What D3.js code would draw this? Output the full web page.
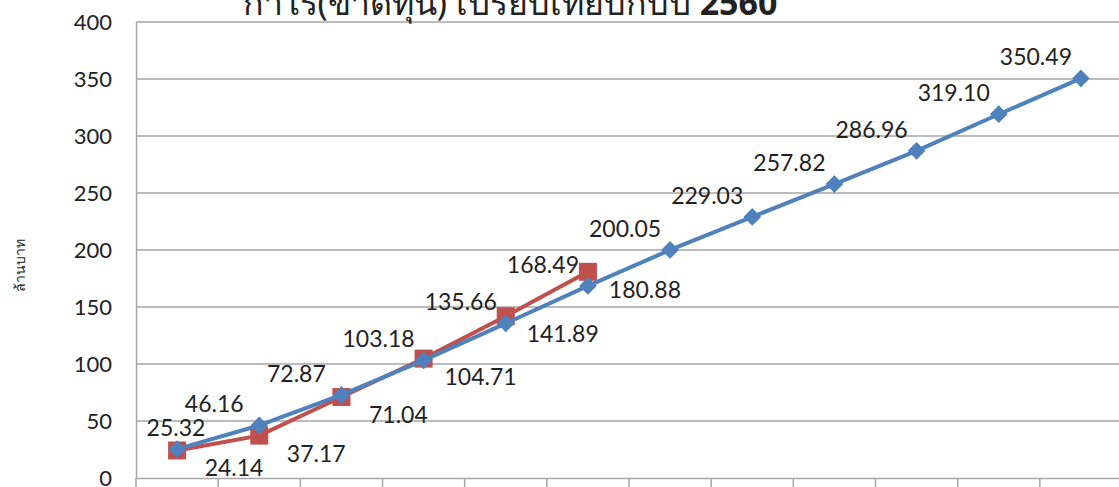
<!DOCTYPE html>
<html>
<head>
<meta charset="utf-8">
<script src="https://cdn.jsdelivr.net/npm/d3@7"></script>
<style>
  body { margin: 0; background: #fff; }
  svg text { font-family: Lato, "Open Sans", sans-serif; fill: #222; }
</style>
</head>
<body>
<div id="chart"></div>
<script>
// months (axis labels fall below the visible frame)
var months = ["ม.ค.", "ก.พ.", "มี.ค.", "เม.ย.", "พ.ค.", "มิ.ย.", "ก.ค.", "ส.ค.", "ก.ย.", "ต.ค.", "พ.ย.", "ธ.ค."];
var yTicks = [0, 50, 100, 150, 200, 250, 300, 350, 400];

// blue series, diamond markers
var seriesBlue = [25.32, 46.16, 72.87, 103.18, 135.66, 168.49, 200.05, 229.03, 257.82, 286.96, 319.10, 350.49];
// red series, square markers (first six months only)
var seriesRed = [24.14, 37.17, 71.04, 104.71, 141.89, 180.88];

var W = 1119, H = 487;
var plotL = 136, plotR = 1122, plotT = 22, plotB = 478;

var svg = d3.select("#chart").append("svg")
  .attr("width", W).attr("height", H);

var x = d3.scaleBand().domain(months).range([plotL, plotR]);
var y = d3.scaleLinear().domain([0, 400]).range([plotB, plotT]);

// horizontal gridlines
svg.append("g")
  .selectAll("line").data(yTicks.slice(1)).enter().append("line")
  .attr("x1", plotL).attr("x2", plotR)
  .attr("y1", function (d) { return y(d); })
  .attr("y2", function (d) { return y(d); })
  .attr("stroke", "#a6a6a6").attr("stroke-width", 1.5);

// y axis
var yAxis = svg.append("g")
  .attr("transform", "translate(" + plotL + ",0)")
  .call(d3.axisLeft(y).tickValues(yTicks).tickSize(0).tickPadding(24));
yAxis.select(".domain").attr("stroke", "#a6a6a6").attr("stroke-width", 1.5);
yAxis.selectAll("text").style("font-size", "22px").attr("fill", "#222")
  .style("font-family", "Lato, 'Open Sans', sans-serif");

// x axis (ticks between categories)
var xAxis = svg.append("g")
  .attr("transform", "translate(0," + plotB + ")")
  .call(d3.axisBottom(x).tickSize(0).tickFormat(""));
xAxis.select(".domain").attr("stroke", "#a6a6a6").attr("stroke-width", 1.5);
xAxis.selectAll(".bound").data(months).enter().append("line")
  .attr("class", "bound")
  .attr("x1", function (d) { return x(d); })
  .attr("x2", function (d) { return x(d); })
  .attr("y1", 0).attr("y2", 10)
  .attr("stroke", "#a6a6a6").attr("stroke-width", 1.5);

function cx(i) { return x(months[i]) + x.bandwidth() / 2; }

var line = d3.line()
  .x(function (d, i) { return cx(i); })
  .y(function (d) { return y(d); });

// red series
svg.append("path").datum(seriesRed)
  .attr("d", line).attr("fill", "none")
  .attr("stroke", "#c0504d").attr("stroke-width", 4);
svg.selectAll(".sq").data(seriesRed).enter().append("rect")
  .attr("class", "sq")
  .attr("x", function (d, i) { return cx(i) - 9; })
  .attr("y", function (d) { return y(d) - 9; })
  .attr("width", 18).attr("height", 18)
  .attr("fill", "#c0504d");

// blue series
svg.append("path").datum(seriesBlue)
  .attr("d", line).attr("fill", "none")
  .attr("stroke", "#4f81bd").attr("stroke-width", 4);
svg.selectAll(".dm").data(seriesBlue).enter().append("path")
  .attr("class", "dm")
  .attr("d", d3.symbol().type(d3.symbolDiamond2).size(200))
  .attr("transform", function (d, i) { return "translate(" + cx(i) + "," + y(d) + ")"; })
  .attr("fill", "#4f81bd");

// data labels: blue above-left, red below-right
svg.selectAll(".lb").data(seriesBlue).enter().append("text")
  .attr("class", "lb")
  .attr("x", function (d, i) { return Math.max(cx(i) - 45, plotL + 40); })
  .attr("y", function (d) { return y(d) - 13; })
  .attr("text-anchor", "middle")
  .style("font-size", "23px")
  .text(function (d) { return d.toFixed(2); });

svg.selectAll(".lr").data(seriesRed).enter().append("text")
  .attr("class", "lr")
  .attr("x", function (d, i) { return cx(i) + 57; })
  .attr("y", function (d) { return y(d) + 26; })
  .attr("text-anchor", "middle")
  .style("font-size", "23px")
  .text(function (d) { return d.toFixed(2); });

// y axis title
svg.append("text")
  .attr("transform", "translate(25,265) rotate(-90)")
  .attr("text-anchor", "middle")
  .style("font-size", "14px")
  .style("font-family", "Tahoma, 'Noto Sans', sans-serif")
  .text("ล้านบาท");

// chart title (mostly cropped at the top)
var title = svg.append("text")
  .attr("x", 510).attr("y", 15)
  .attr("text-anchor", "middle")
  .style("font-size", "34px")
  .style("font-family", "Tahoma, 'Noto Sans', sans-serif");
title.append("tspan").text("กำไร(ขาดทุน) เปรียบเทียบกับปี ");
title.append("tspan").style("font-weight", "bold").text("2560");
</script>
</body>
</html>
